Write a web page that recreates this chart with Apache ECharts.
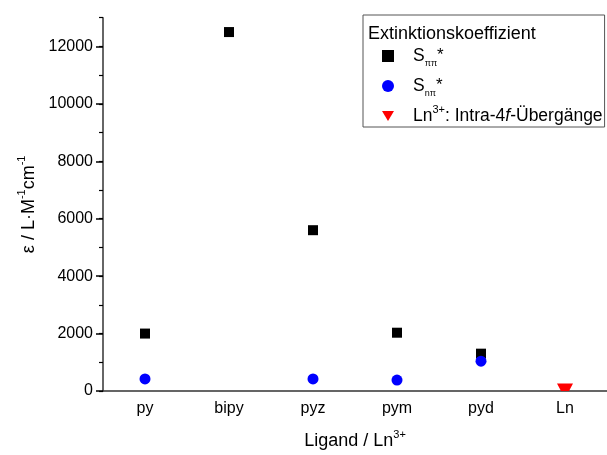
<!DOCTYPE html>
<html>
<head>
<meta charset="utf-8">
<script src="https://cdn.jsdelivr.net/npm/echarts@6/dist/echarts.min.js"></script>
<style>
  html, body { margin: 0; padding: 0; background: #fff; }
  #chart { width: 607px; height: 455px; }
</style>
</head>
<body>
<div id="chart"></div>
<script>
// Kategorien (x-Achse)
const ligands = ['py', 'bipy', 'pyz', 'pym', 'pyd', 'Ln']
// S_pipi* Extinktionskoeffizienten
const pipiValues = [2000, 12500, 5600, 2030, 1300, null]
// S_npi* Extinktionskoeffizienten
const npiValues = [420, null, 420, 380, 1040, null]
// Ln3+ intra-4f
const lnValues = [null, null, null, null, null, 0]
// y-Achse Beschriftung
const yMajorTicks = [0, 2000, 4000, 6000, 8000, 10000, 12000]

const NAME_PIPI = 'S_pipi'
const NAME_NPI = 'S_npi'
const NAME_LN = 'Ln_4f'

const FONT = 'Liberation Sans, Arial, sans-serif'

const chart = echarts.init(document.getElementById('chart'))

const lnData = lnValues
  .map((v, i) => v === null ? null : [i, v])
  .filter(d => d !== null)

// rich text styles for legend + axis names
const richText = (size) => ({
  b: { fontFamily: FONT, fontSize: size, color: '#000', lineHeight: 24 },
  it: { fontFamily: FONT, fontSize: size, color: '#000', fontStyle: 'italic', lineHeight: 24 },
  sub: { fontFamily: FONT, fontSize: 9, color: '#000', verticalAlign: 'bottom', lineHeight: 24 },
  sup: { fontFamily: FONT, fontSize: 11, color: '#000', verticalAlign: 'top', lineHeight: 24 },
  star: { fontFamily: FONT, fontSize: 17, color: '#000', verticalAlign: 'top', lineHeight: 24, padding: [3, 0, 0, 0] }
})

chart.setOption({
  animation: false,
  title: {
    text: 'Extinktionskoeffizient',
    left: 363,
    top: 20,
    textStyle: { fontFamily: FONT, fontSize: 18, fontWeight: 'normal', color: '#000' }
  },
  legend: {
    orient: 'vertical',
    left: 363,
    top: 15,
    padding: [29, 2, 2, 19],
    itemGap: 6,
    itemWidth: 12,
    itemHeight: 12,
    borderColor: '#555',
    borderWidth: 1,
    data: [
      { name: NAME_PIPI, icon: 'rect' },
      { name: NAME_NPI, icon: 'circle' },
      { name: NAME_LN, icon: 'path://M0,0L10,0L5,8.5Z' }
    ],
    formatter: name => {
      if (name === NAME_PIPI) return '{b|S}{sub|ππ}{star|*}'
      if (name === NAME_NPI) return '{b|S}{sub|nπ}{star|*}'
      return '{b|Ln}{sup|3+}{b|: Intra-4}{it|f}{b|-Übergänge}'
    },
    textStyle: {
      fontFamily: FONT,
      color: '#000',
      padding: [0, 0, 0, 14],
      rich: richText(17.5)
    }
  },
  grid: { left: 103, right: -4, top: 17.7, bottom: 62.5 },
  xAxis: {
    type: 'category',
    data: ligands,
    boundaryGap: true,
    name: '{b|Ligand / Ln}{sup|3+}',
    nameLocation: 'middle',
    nameGap: 38,
    nameTextStyle: { rich: richText(18) },
    axisLine: { lineStyle: { color: '#333', width: 1.5 } },
    axisTick: { alignWithLabel: true, length: 6, lineStyle: { color: '#000', width: 1.5 } },
    axisLabel: { fontFamily: FONT, fontSize: 16, color: '#000', margin: 10 },
    splitLine: { show: false }
  },
  yAxis: [{
    type: 'value',
    min: 0,
    max: 13000,
    interval: 2000,
    name: '{b|ε / L·M}{sup|-1}{b|cm}{sup|-1}',
    nameLocation: 'middle',
    nameGap: 53,
    nameTextStyle: { rich: richText(18) },
    axisLine: { show: true, lineStyle: { color: '#333', width: 1.5 } },
    axisTick: { show: true, length: 7, customValues: yMajorTicks, lineStyle: { color: '#000', width: 1.5 } },
    axisLabel: {
      fontFamily: FONT, fontSize: 16, color: '#000', margin: 10,
      customValues: yMajorTicks,
      formatter: v => String(v)
    },
    splitLine: { show: false }
  }, {
    // kleine Zwischenstriche
    type: 'value',
    position: 'left',
    min: 0,
    max: 13000,
    interval: 1000,
    axisLine: { show: false },
    axisTick: { show: true, length: 4, lineStyle: { color: '#000', width: 1.2 } },
    axisLabel: { show: false },
    splitLine: { show: false }
  }],
  series: [{
    name: NAME_PIPI,
    type: 'scatter',
    symbol: 'rect',
    symbolSize: 10,
    itemStyle: { color: '#000', opacity: 1 },
    data: pipiValues
  }, {
    name: NAME_NPI,
    type: 'scatter',
    symbol: 'circle',
    symbolSize: 11,
    itemStyle: { color: '#0000ff', opacity: 1 },
    data: npiValues
  }, {
    name: NAME_LN,
    type: 'custom',
    itemStyle: { color: '#ff0000' },
    data: lnData,
    renderItem: (params, api) => {
      const p = api.coord([api.value(0), api.value(1)])
      const w = 16, h = 15
      const top = p[1] - h / 2
      const apex = p[1] + h / 2
      // Dreieck an der x-Achse abschneiden
      const bottom = params.coordSys.y + params.coordSys.height
      let points
      if (apex > bottom) {
        const half = (w / 2) * (apex - bottom) / h
        points = [[p[0] - w / 2, top], [p[0] + w / 2, top], [p[0] + half, bottom], [p[0] - half, bottom]]
      } else {
        points = [[p[0] - w / 2, top], [p[0] + w / 2, top], [p[0], apex]]
      }
      return {
        type: 'polygon',
        shape: { points: points },
        style: { fill: '#ff0000' }
      }
    }
  }]
})
</script>
</body>
</html>
